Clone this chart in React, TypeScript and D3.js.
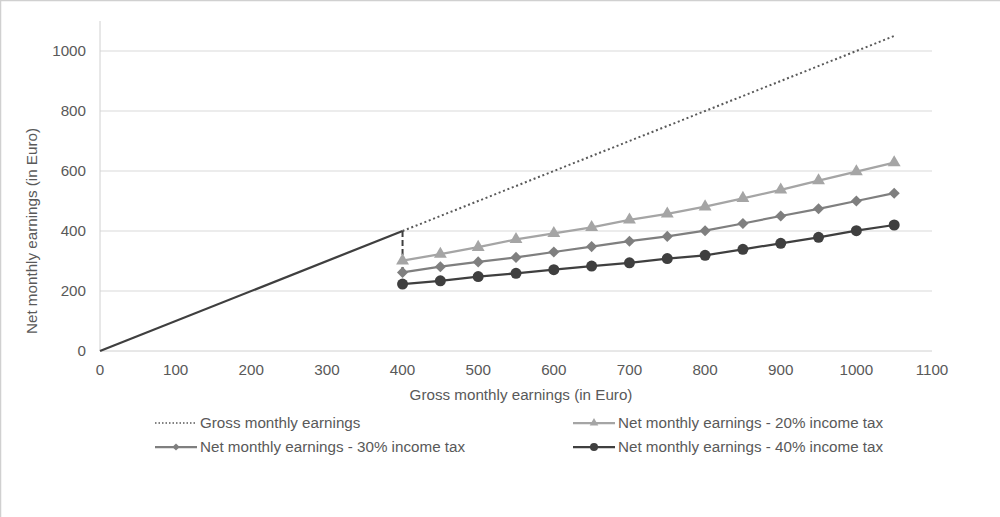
import React from "react";
import * as d3 from "d3";

const grossX = [400, 450, 500, 550, 600, 650, 700, 750, 800, 850, 900, 950, 1000, 1050];
const net20 = [301, 323, 346, 372, 392, 412, 437, 457, 481, 509, 537, 568, 598, 628];
const net30 = [262, 281, 297, 312, 330, 348, 366, 382, 401, 425, 450, 474, 500, 526];
const net40 = [223, 234, 248, 259, 271, 283, 294, 308, 319, 339, 359, 379, 401, 420];
const grossSolid: [number, number][] = [[0, 0], [400, 400]];
const grossDotted: [number, number][] = [[400, 400], [1050, 1050]];
const dropLine: [number, number][] = [[400, 400], [400, 255]];
const xTicks = [0, 100, 200, 300, 400, 500, 600, 700, 800, 900, 1000, 1100];
const yTicks = [0, 200, 400, 600, 800, 1000];
const legendLabels = [
  "Gross monthly earnings",
  "Net monthly earnings - 20% income tax",
  "Net monthly earnings - 30% income tax",
  "Net monthly earnings - 40% income tax",
];

const FONT = "'Liberation Sans', Arial, sans-serif";
const FS = 15.2;
const TXT = "#595959";
const C20 = "#a5a5a5";
const C30 = "#7f7f7f";
const C40 = "#3f3f3f";
const CG = "#595959";

export default function App() {
  const W = 1000, H = 517;
  const x = d3.scaleLinear().domain([0, 1100]).range([100, 932]);
  const y = d3.scaleLinear().domain([0, 1100]).range([351, 21]);
  const line = d3.line<[number, number]>().x(d => x(d[0])).y(d => y(d[1]));
  const pts = (vals: number[]) => grossX.map((g, i) => [g, vals[i]] as [number, number]);
  const tri = d3.symbol().type(d3.symbolTriangle).size(72)();
  const dia = d3.symbol().type(d3.symbolSquare).size(62)();
  const triS = d3.symbol().type(d3.symbolTriangle).size(32)();
  const diaS = d3.symbol().type(d3.symbolSquare).size(26)();

  const legendItems = [
    { x: 155, y: 423, label: legendLabels[0], kind: "dot" },
    { x: 573, y: 423, label: legendLabels[1], kind: "tri" },
    { x: 155, y: 447, label: legendLabels[2], kind: "dia" },
    { x: 573, y: 447, label: legendLabels[3], kind: "circ" },
  ];

  return (
    <svg width={W} height={H} style={{ display: "block", position: "absolute", left: 0, top: 0, background: "#fff" }}>
      <rect x={0.5} y={0.5} width={1200} height={700} fill="#fff" stroke="#d0d0d0" strokeWidth={1.5} />
      {yTicks.filter(t => t > 0).map(t => (
        <line key={"g" + t} x1={x(0)} x2={x(1100)} y1={y(t)} y2={y(t)} stroke="#d9d9d9" strokeWidth={1} />
      ))}
      <line x1={x(0)} x2={x(0)} y1={y(1100)} y2={y(0)} stroke="#d0d0d0" strokeWidth={1} />
      <line x1={x(0)} x2={x(1100)} y1={y(0)} y2={y(0)} stroke="#d0d0d0" strokeWidth={1} />
      {yTicks.map(t => (
        <text key={"y" + t} x={86} y={y(t)} dy="0.35em" textAnchor="end" fontFamily={FONT} fontSize={FS} fill={TXT}>{t}</text>
      ))}
      {xTicks.map(t => (
        <text key={"x" + t} x={x(t)} y={375} textAnchor="middle" fontFamily={FONT} fontSize={FS} fill={TXT}>{t}</text>
      ))}
      <text x={521} y={400} textAnchor="middle" fontFamily={FONT} fontSize={FS} fill={TXT}>Gross monthly earnings (in Euro)</text>
      <text transform="translate(37,231) rotate(-90)" textAnchor="middle" fontFamily={FONT} fontSize={FS} fill={TXT}>Net monthly earnings (in Euro)</text>

      <path d={line(grossDotted) || ""} fill="none" stroke={CG} strokeWidth={2} strokeDasharray="2 2.7" />
      <path d={line(grossSolid) || ""} fill="none" stroke={C40} strokeWidth={2.25} />
      <path d={line(pts(net20)) || ""} fill="none" stroke={C20} strokeWidth={2.25} />
      <path d={line(pts(net30)) || ""} fill="none" stroke={C30} strokeWidth={2.25} />
      <path d={line(pts(net40)) || ""} fill="none" stroke={C40} strokeWidth={2.25} />
      <path d={line(dropLine) || ""} fill="none" stroke={C40} strokeWidth={2} strokeDasharray="6 3" />
      {pts(net20).map((p, i) => (
        <path key={"t" + i} d={tri || ""} transform={`translate(${x(p[0])},${y(p[1])})`} fill={C20} />
      ))}
      {pts(net30).map((p, i) => (
        <path key={"d" + i} d={dia || ""} transform={`translate(${x(p[0])},${y(p[1])}) rotate(45)`} fill={C30} />
      ))}
      {pts(net40).map((p, i) => (
        <circle key={"c" + i} cx={x(p[0])} cy={y(p[1])} r={5.5} fill={C40} />
      ))}

      {legendItems.map((it, i) => (
        <g key={"l" + i}>
          {it.kind === "dot" && <line x1={it.x} x2={it.x + 42} y1={it.y} y2={it.y} stroke={CG} strokeWidth={1.5} strokeDasharray="1.5 2" />}
          {it.kind === "tri" && <>
            <line x1={it.x} x2={it.x + 42} y1={it.y} y2={it.y} stroke={C20} strokeWidth={2.25} />
            <path d={triS || ""} transform={`translate(${it.x + 21},${it.y})`} fill={C20} />
          </>}
          {it.kind === "dia" && <>
            <line x1={it.x} x2={it.x + 42} y1={it.y} y2={it.y} stroke={C30} strokeWidth={2.25} />
            <path d={diaS || ""} transform={`translate(${it.x + 21},${it.y}) rotate(45)`} fill={C30} />
          </>}
          {it.kind === "circ" && <>
            <line x1={it.x} x2={it.x + 42} y1={it.y} y2={it.y} stroke={C40} strokeWidth={2.25} />
            <circle cx={it.x + 21} cy={it.y} r={4} fill={C40} />
          </>}
          <text x={it.x + 45} y={it.y} dy="0.35em" fontFamily={FONT} fontSize={FS} fill={TXT}>{it.label}</text>
        </g>
      ))}
    </svg>
  );
}
